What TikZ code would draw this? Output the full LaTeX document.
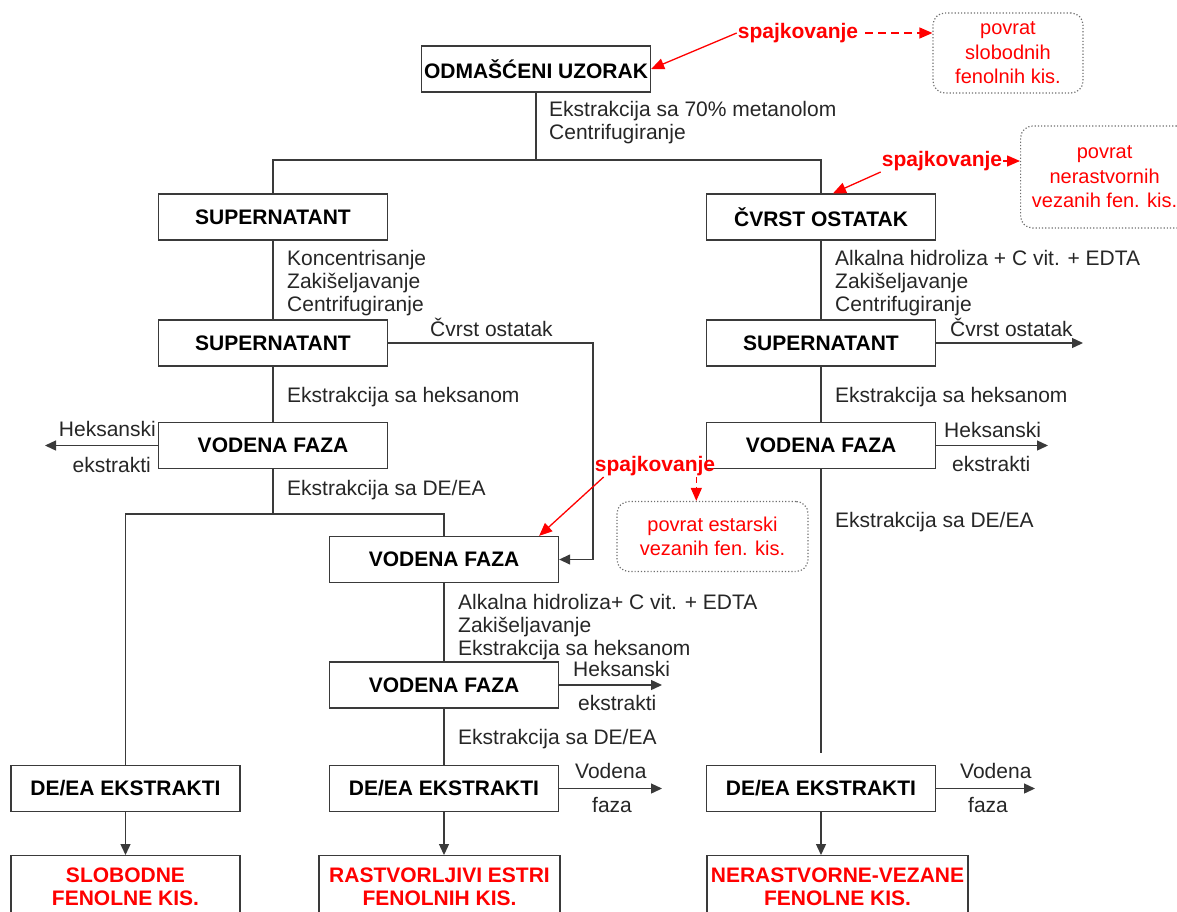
\documentclass[tikz,border=0pt]{standalone}
\usepackage{fontspec}
\setmainfont{Liberation Sans}
\usetikzlibrary{arrows.meta}
\definecolor{cBox}{HTML}{3A3A3A}
\definecolor{cTxt}{HTML}{262626}
\definecolor{cRed}{HTML}{FF0000}
\definecolor{cDot}{HTML}{6E6E6E}
\newcommand\fs{\fontsize{21}{23}\selectfont}
\newcommand\fsp{\fontsize{20}{24.5}\selectfont}

\begin{document}
\begin{tikzpicture}[
  x=1pt,y=-1pt,
  box/.style={rectangle,draw=cBox,line width=1.3pt,minimum width=229pt,minimum height=46pt,
              inner sep=2pt,font=\fs\bfseries,text=black},
  res/.style={box,text=cRed,align=center,minimum height=62pt,anchor=north},
  txt/.style={inner sep=0pt,align=left,anchor=north west,font=\fs,text=cTxt},
  pov/.style={rectangle,rounded corners=12pt,draw=cDot,dotted,line width=1.2pt,
              font=\fsp,text=cRed,align=center,inner sep=2pt},
  spaj/.style={inner sep=1pt,font=\fs\bfseries,text=cRed},
  ln/.style={draw=cBox,line width=1.3pt},
  ar/.style={ln,-{Triangle[length=11pt,width=10pt]}},
  rar/.style={draw=cRed,line width=1.3pt,-{Triangle[length=13pt,width=11pt]}}
]
\useasboundingbox (0,0) rectangle (1177,911);
\clip (0,0) rectangle (1177,911);

%======================= TOP : SAMPLE =======================
\node[box] (uzorak) at (536,69) {ODMAŠĆENI UZORAK};
\node[txt] (t1) at (549,101) {Ekstrakcija sa 70\% metanolom\\Centrifugiranje};
\coordinate (s1) at (536,160);
\draw[ln] (uzorak.south) -- (s1);

%======================= LEVEL 2 =======================
\node[box] (super1) at (273,217) {SUPERNATANT};
\node[box] (cvrst) at (821,217) {ČVRST OSTATAK};
\draw[ln] (super1.north) |- (s1) -| (cvrst.north);
\node[txt] (t2) at (287,250) {Koncentrisanje\\Zakišeljavanje\\Centrifugiranje};
\node[txt] (t3) at (835,250) {Alkalna hidroliza + C vit. + EDTA\\Zakišeljavanje\\Centrifugiranje};

%======================= LEVEL 3 =======================
\node[box] (super2) at (273,343) {SUPERNATANT};
\node[box] (superR) at (821,343) {SUPERNATANT};
\draw[ln] (super1) -- (super2);
\draw[ln] (cvrst) -- (superR);
\node[txt] (t4) at (430,318) {Čvrst ostatak};
\node[txt] (t5) at (950,318) {Čvrst ostatak};
\coordinate (c1) at (593,343);
\coordinate (c2) at (1083,343);
\draw[ar] (superR.east) -- (c2);
\node[txt] (t6) at (287,387) {Ekstrakcija sa heksanom};
\node[txt] (t7) at (835,387) {Ekstrakcija sa heksanom};

%======================= LEVEL 4 =======================
\node[box] (vodaL) at (273,445.5) {VODENA FAZA};
\node[box] (vodaR) at (821,445.5) {VODENA FAZA};
\draw[ln] (super2) -- (vodaL);
\draw[ln] (superR) -- (vodaR);
\coordinate (h1) at (45,445.5);
\coordinate (h2) at (1048,445.5);
\draw[ar] (vodaL.west) -- (h1);
\draw[ar] (vodaR.east) -- (h2);
\node[txt,anchor=north east] (t8) at (156,421) {Heksanski};
\node[txt,anchor=north east] (t9) at (151,457) {ekstrakti};
\node[txt] (t10) at (944,422) {Heksanski};
\node[txt] (t11) at (952,456) {ekstrakti};
\node[txt] (t12) at (287,480) {Ekstrakcija sa DE/EA};
\node[txt] (t13) at (835,512) {Ekstrakcija sa DE/EA};

%======================= MIDDLE BRANCH =======================
\coordinate (s2) at (273,514);
\node[box] (vodaM) at (444,559.5) {VODENA FAZA};
\node[box] (deaL) at (125.5,788.5) {DE/EA EKSTRAKTI};
\draw[ln] (vodaL.south) -- (s2);
\draw[ln] (deaL.north) |- (s2) -| (vodaM.north);
\draw[ar] (super2.east) -- (c1) |- (vodaM.east);
\node[txt] (t14) at (458,594) {Alkalna hidroliza+ C vit. + EDTA\\Zakišeljavanje\\Ekstrakcija sa heksanom};
\node[box] (vodaM2) at (444,685) {VODENA FAZA};
\draw[ln] (vodaM) -- (vodaM2);
\coordinate (h3) at (662,685);
\draw[ar] (vodaM2.east) -- (h3);
\node[txt] (t15) at (573,661) {Heksanski};
\node[txt] (t16) at (578,695) {ekstrakti};
\node[txt] (t17) at (458,729) {Ekstrakcija sa DE/EA};
\node[box] (deaM) at (444,788.5) {DE/EA EKSTRAKTI};
\draw[ln] (vodaM2) -- (deaM);
\coordinate (h4) at (662,788.5);
\draw[ar] (deaM.east) -- (h4);
\node[txt] (t18) at (575,763) {Vodena};
\node[txt] (t19) at (592,797) {faza};

%======================= RIGHT BRANCH =======================
\coordinate (e1) at (821,753);
\draw[ln] (vodaR.south) -- (e1);
\node[box] (deaR) at (821,788.5) {DE/EA EKSTRAKTI};
\coordinate (h5) at (1035,788.5);
\draw[ar] (deaR.east) -- (h5);
\node[txt] (t20) at (960,763) {Vodena};
\node[txt] (t21) at (968,797) {faza};

%======================= RESULTS =======================
\node[res] (slob) at (125.5,855) {SLOBODNE\\FENOLNE KIS.};
\node[res,minimum width=241pt] (rastv) at (439.5,855) {RASTVORLJIVI ESTRI\\FENOLNIH KIS.};
\node[res,minimum width=261pt] (nerast) at (837.5,855) {NERASTVORNE-VEZANE\\FENOLNE KIS.};
\draw[ar] (deaL) -- (slob);
\draw[ar] (deaM.south) -- (deaM.south |- rastv.north);
\draw[ar] (deaR.south) -- (deaR.south |- nerast.north);

%======================= SPIKING (red) =======================
\node[spaj] (spaj1) at (798,33) {spajkovanje};
\node[pov,minimum width=150pt,minimum height=80pt] (povrat1) at (1008,53) {povrat\\slobodnih\\fenolnih kis.};
\draw[rar] (spaj1.west) -- (uzorak.east);
\draw[rar,dash pattern=on 8pt off 5pt,shorten <=6pt] (spaj1.east) -- (spaj1.east -| povrat1.west);

\node[spaj] (spaj2) at (942,161) {spajkovanje};
\node[pov,minimum width=168pt,minimum height=102pt,anchor=west] (povrat2) at (1020,177) {povrat\\nerastvornih\\vezanih fen. kis.};
\coordinate (t2a) at ([xshift=12pt]cvrst.north);
\draw[rar] (spaj2.south west) -- (t2a);
\draw[rar] (spaj2.east) -- (spaj2.east -| povrat2.west);

\node[spaj] (spaj3) at (655,466) {spajkovanje};
\node[pov,minimum width=191pt,minimum height=70pt] (povrat3) at (712.5,536.5) {povrat estarski\\vezanih fen. kis.};
\coordinate (t3a) at ([xshift=-20pt]vodaM.north east);
\draw[rar] ([xshift=10pt]spaj3.south west) -- (t3a);
\draw[rar,dash pattern=on 6pt off 4pt] ([xshift=-20pt]spaj3.south east) -- ([xshift=-20pt]spaj3.south east |- povrat3.north);

\end{tikzpicture}
\end{document}
